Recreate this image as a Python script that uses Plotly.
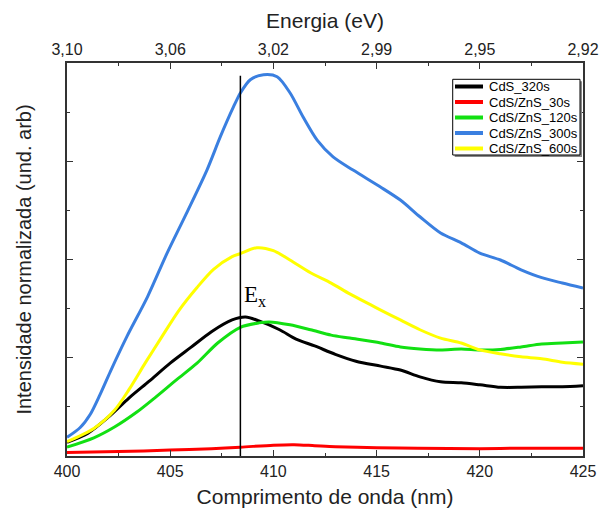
import plotly.graph_objects as go

# ---------------- data ----------------
wl_cds320 = [400, 401.0, 402.0, 403.0, 404.0, 405.0, 406.0, 407.0, 408.0, 408.65, 409.3, 410.3,
             411.1, 412.0, 413.0, 414.0, 415.2, 416.15, 417.1, 418.1, 419.1, 420.0, 421.0,
             422.0, 423.0, 424.0, 425.0]
int_cds320 = [0.28, 0.46, 0.79, 1.18, 1.53, 1.89, 2.21, 2.53, 2.77, 2.83, 2.75, 2.57,
              2.38, 2.24, 2.07, 1.93, 1.83, 1.75, 1.61, 1.51, 1.49, 1.45, 1.40,
              1.40, 1.41, 1.41, 1.43]

wl_zns30 = [400, 402.5, 405, 407, 408.4, 410, 411, 412, 413, 415, 417, 420, 422, 425]
int_zns30 = [0.07, 0.09, 0.12, 0.15, 0.18, 0.22, 0.23, 0.21, 0.19, 0.17, 0.16, 0.15, 0.16, 0.16]

wl_zns120 = [400, 401.3, 402.3, 403.4, 404.3, 405.3, 406.3, 407.3, 408.4, 409.3, 409.8, 410.8,
             411.8, 412.8, 413.7, 415.2, 416.15, 417.1, 418.1, 419.1, 420.0, 421.0, 422.0,
             423.0, 424.0, 425.0]
int_zns120 = [0.18, 0.37, 0.59, 0.90, 1.20, 1.55, 1.89, 2.30, 2.62, 2.71, 2.73, 2.67,
              2.57, 2.46, 2.40, 2.30, 2.22, 2.18, 2.16, 2.18, 2.16, 2.17, 2.22,
              2.28, 2.30, 2.32]

wl_zns300 = [400, 400.64, 401.13, 401.6, 402.1, 402.9, 403.9, 404.85, 405.8, 406.78, 407.43,
             408.07, 408.4, 408.88, 409.52, 410.18, 410.81, 411.44, 412.12, 412.89, 413.86,
             415.17, 416.15, 417.1, 418.1, 419.1, 420.0, 421.0, 422.0, 423.0, 424.0, 425.0]
int_zns300 = [0.38, 0.58, 0.85, 1.25, 1.72, 2.43, 3.24, 4.13, 4.95, 5.82, 6.50,
              7.11, 7.39, 7.66, 7.76, 7.72, 7.39, 6.90, 6.43, 6.09, 5.82,
              5.48, 5.21, 4.87, 4.54, 4.34, 4.13, 3.99, 3.79, 3.63, 3.52, 3.42]

wl_zns600 = [400, 401.3, 402.3, 403.0, 403.8, 404.6, 405.4, 406.3, 407.1, 408.0, 408.4, 409.2,
             410.0, 410.8, 411.8, 412.8, 413.7, 414.7, 415.2, 416.15, 417.1, 418.1, 419.1,
             420.0, 421.0, 422.0, 423.0, 424.0, 425.0]
int_zns600 = [0.29, 0.56, 0.93, 1.35, 1.90, 2.43, 2.95, 3.43, 3.80, 4.06, 4.12, 4.24,
              4.18, 3.99, 3.73, 3.52, 3.30, 3.08, 2.97, 2.77, 2.57, 2.40, 2.30,
              2.16, 2.08, 2.02, 1.98, 1.91, 1.87]

series_names = ["CdS_320s", "CdS/ZnS_30s", "CdS/ZnS_120s", "CdS/ZnS_300s", "CdS/ZnS_600s"]
series_colors = ["#000000", "#ff0000", "#12e012", "#3a7fe0", "#ffff00"]
series_x = [wl_cds320, wl_zns30, wl_zns120, wl_zns300, wl_zns600]
series_y = [int_cds320, int_zns30, int_zns120, int_zns300, int_zns600]

# bottom axis ticks (nm) and top axis labels (energy, eV)
wl_ticks = [400, 405, 410, 415, 420, 425]
energy_labels = ["3,10", "3,06", "3,02", "2,99", "2,95", "2,92"]

# Ex marker line
ex_x = [408.4, 408.4]
ex_y = [0, 7.74]
ex_label_pos = (408.5, 3.25)

FONT = "Liberation Sans, Arial, sans-serif"
AX = "#333333"

fig = go.Figure()
for name, color, xs, ys in zip(series_names, series_colors, series_x, series_y):
    fig.add_trace(go.Scatter(x=xs, y=ys, mode="lines", name=name, showlegend=False,
                             line=dict(color=color, width=3, shape="spline", smoothing=0.8)))

fig.add_trace(go.Scatter(x=ex_x, y=ex_y, mode="lines", showlegend=False,
                         line=dict(color="#000000", width=1.5), hoverinfo="skip"))
# dummy trace for the top (energy) axis
fig.add_trace(go.Scatter(x=[wl_ticks[0], wl_ticks[-1]], y=[None, None], xaxis="x2",
                         mode="lines", showlegend=False, hoverinfo="skip"))

fig.add_annotation(x=ex_label_pos[0], y=ex_label_pos[1], xref="x", yref="y",
                   text="E<sub>x</sub>", showarrow=False, xanchor="left", yanchor="middle",
                   font=dict(family="Liberation Serif, Times New Roman, serif", size=23, color="#000000"))

# ---- compact legend box (drawn in paper coordinates) ----
PW, PH = 516.0, 393.0
box_x0, box_x1 = 0.7475, 0.9942
box_y0, box_y1 = 0.7659, 0.9585
sx, sy = 2 / PW, 2 / PH
fig.add_shape(type="rect", xref="paper", yref="paper", x0=box_x0 + sx, x1=box_x1 + sx,
              y0=box_y0 - sy, y1=box_y1 - sy, fillcolor="#888888", line=dict(width=0), layer="above")
fig.add_shape(type="rect", xref="paper", yref="paper", x0=box_x0, x1=box_x1,
              y0=box_y0, y1=box_y1, fillcolor="white", line=dict(color="#000000", width=1), layer="above")
row_step = 15.5 / PH
row0 = 0.9402
for i, (name, color) in enumerate(zip(series_names, series_colors)):
    yy = row0 - i * row_step
    fig.add_shape(type="line", xref="paper", yref="paper", x0=0.7519, x1=0.8062, y0=yy, y1=yy,
                  line=dict(color=color, width=4), layer="above")
    fig.add_annotation(x=0.8140, y=yy, xref="paper", yref="paper", text=name, showarrow=False,
                       xanchor="left", yanchor="middle",
                       font=dict(family=FONT, size=13, color="#000000"))

common_axis = dict(showgrid=False, zeroline=False, showline=True, linecolor=AX, linewidth=1.5,
                   ticks="inside", ticklen=6, tickwidth=1.2, tickcolor=AX, automargin=False)

fig.update_layout(
    width=611, height=513,
    margin=dict(l=67, r=28, t=63, b=57),
    paper_bgcolor="white", plot_bgcolor="white",
    font=dict(family=FONT, color="#222222"),
    showlegend=False,
    xaxis=dict(**common_axis, range=[400, 425], tickvals=wl_ticks, mirror=False,
               minor=dict(ticks="inside", dtick=2.5, ticklen=3, tickcolor=AX),
               tickfont=dict(size=16),
               title=dict(text="Comprimento de onda (nm)", font=dict(size=21), standoff=10)),
    xaxis2=dict(**common_axis, range=[400, 425], overlaying="x", side="top", anchor="y",
                tickvals=wl_ticks, ticktext=energy_labels,
                minor=dict(ticks="inside", dtick=2.5, ticklen=3, tickcolor=AX),
                tickfont=dict(size=16),
                title=dict(text="Energia (eV)", font=dict(size=21), standoff=6)),
    yaxis=dict(**common_axis, range=[0, 8], dtick=2, showticklabels=False, mirror="ticks",
               minor=dict(ticks="inside", dtick=1, ticklen=3, tickcolor=AX),
               title=dict(text="Intensidade normalizada (und. arb)", font=dict(size=20), standoff=28)),
)

fig.write_html("out.html")
